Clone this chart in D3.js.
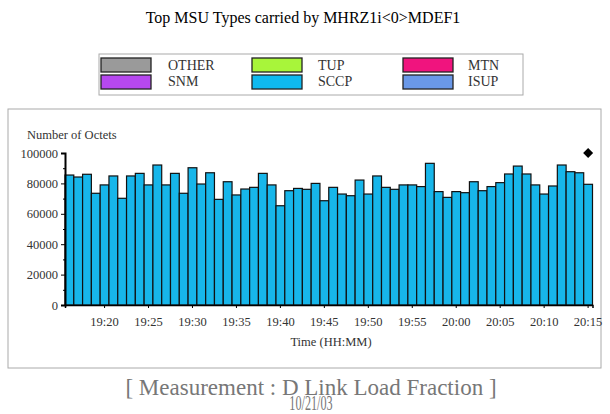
<!DOCTYPE html>
<meta charset="utf-8">
<title>Top MSU Types</title>
<script src="https://d3js.org/d3.v7.min.js"></script>
<style>
  body { margin: 0; background: #fff; }
  svg text { font-family: "Liberation Serif", "Times New Roman", serif; }
</style>
<body>
<div id="chart"></div>
<script>
// minutes shown, one bar each
var times = ["19:16","19:17","19:18","19:19","19:20","19:21","19:22","19:23","19:24","19:25",
  "19:26","19:27","19:28","19:29","19:30","19:31","19:32","19:33","19:34","19:35",
  "19:36","19:37","19:38","19:39","19:40","19:41","19:42","19:43","19:44","19:45",
  "19:46","19:47","19:48","19:49","19:50","19:51","19:52","19:53","19:54","19:55",
  "19:56","19:57","19:58","19:59","20:00","20:01","20:02","20:03","20:04","20:05",
  "20:06","20:07","20:08","20:09","20:10","20:11","20:12","20:13","20:14","20:15"];

// SCCP octets per minute
var sccp = [85500,84200,86000,73500,79000,84900,70200,84900,86600,79000,
  92100,79000,86600,73500,90300,79600,87000,69500,81100,72400,
  76300,77400,86600,79000,65300,75200,76700,76100,80000,68600,
  77400,73000,71900,82200,73000,84900,77400,76100,79000,79000,
  77900,93200,74600,70800,74600,73900,81100,75200,77900,80500,
  86200,91400,86200,79000,73000,78300,92100,87700,87000,79400];

var xLabels = ["19:20","19:25","19:30","19:35","19:40","19:45","19:50","19:55","20:00","20:05","20:10","20:15"];
var yTicks = [0, 20000, 40000, 60000, 80000, 100000];

var legendNames = ["OTHER","TUP","MTN","SNM","SCCP","ISUP"];
var legendColors = ["#9a9a9a","#a8f53a","#f0147e","#b648f0","#0fbaf0","#6a98e8"];

var serif = "Liberation Serif, Times New Roman, serif";
var W = 610, H = 414;
var svg = d3.select("#chart").append("svg")
    .attr("width", W)
    .attr("height", H);

// title
svg.append("text")
    .attr("x", 303).attr("y", 23)
    .attr("text-anchor", "middle")
    .attr("font-family", serif)
    .attr("font-size", "16px")
    .text("Top MSU Types carried by MHRZ1i<0>MDEF1");

// legend
var lg = svg.append("g");
lg.append("rect")
    .attr("x", 99).attr("y", 54).attr("width", 424).attr("height", 41)
    .attr("fill", "#fff").attr("stroke", "#aaa");
legendNames.forEach(function(n, i) {
  var col = i % 3, row = Math.floor(i / 3);
  lg.append("rect")
    .attr("x", 101 + col * 151).attr("y", 58 + row * 17)
    .attr("width", 50).attr("height", 14)
    .attr("fill", legendColors[i])
    .attr("stroke", "#222").attr("stroke-width", 1.3);
  lg.append("text")
    .attr("x", 168 + col * 150).attr("y", 70 + row * 16)
    .attr("font-family", serif)
    .attr("font-size", "14px")
    .attr("fill", "#333")
    .text(n);
});

// chart panel
svg.append("rect")
    .attr("x", 8).attr("y", 109).attr("width", 593).attr("height", 259)
    .attr("fill", "#fff").attr("stroke", "#aaa");

var x = d3.scaleBand().domain(times).range([65, 592.5]).padding(0);
var y = d3.scaleLinear().domain([0, 100000]).range([305, 153]);

svg.append("g").selectAll("rect")
  .data(sccp)
  .enter().append("rect")
    .attr("x", function(d, i) { return x(times[i]); })
    .attr("y", function(d) { return y(d); })
    .attr("width", x.bandwidth())
    .attr("height", function(d) { return y(0) - y(d); })
    .attr("fill", "#17b6ea")
    .attr("stroke", "#111")
    .attr("stroke-width", 1.2);

// y axis
var yAxis = svg.append("g")
    .attr("transform", "translate(65,0)")
    .call(d3.axisLeft(y).tickValues(yTicks).tickSize(4).tickFormat(d3.format("d")));
yAxis.select(".domain").attr("stroke-width", 2);
yAxis.selectAll("text").attr("font-size", "12.5px").attr("fill", "#333")
    .attr("font-family", serif);
svg.append("g")
    .attr("transform", "translate(65,0)")
    .call(d3.axisLeft(y).tickValues([10000, 30000, 50000, 70000, 90000]).tickSize(2).tickFormat(""))
    .select(".domain").remove();

// x axis
var xAxis = svg.append("g")
    .attr("transform", "translate(0,305)")
    .call(d3.axisBottom(x).tickValues(xLabels).tickSize(3));
xAxis.select(".domain").attr("stroke-width", 1.5);
xAxis.selectAll("text").attr("font-size", "12.5px").attr("fill", "#333")
    .attr("font-family", serif).attr("dy", "1.2em");

svg.append("text")
    .attr("x", 27).attr("y", 139)
    .attr("font-family", serif)
    .attr("font-size", "12.5px").attr("fill", "#333")
    .text("Number of Octets");

svg.append("text")
    .attr("x", 331).attr("y", 346)
    .attr("text-anchor", "middle")
    .attr("font-family", serif)
    .attr("font-size", "12.5px").attr("fill", "#333")
    .text("Time (HH:MM)");

// marker
svg.append("path")
    .attr("d", d3.symbol().type(d3.symbolSquare).size(50))
    .attr("transform", "translate(" + (x("20:15") + x.bandwidth() / 2) + "," + y(100000) + ") rotate(45)")
    .attr("fill", "#000");

// footer
svg.append("text")
    .attr("x", 311).attr("y", 395)
    .attr("text-anchor", "middle")
    .attr("font-family", serif)
    .attr("font-size", "23px").attr("fill", "#777")
    .text("[ Measurement : D Link Load Fraction ]");
svg.append("text")
    .attr("transform", "translate(311,410) scale(0.58,1)")
    .attr("text-anchor", "middle")
    .attr("font-family", serif)
    .attr("font-size", "21px").attr("fill", "#777")
    .text("10/21/03");
</script>
</body>
